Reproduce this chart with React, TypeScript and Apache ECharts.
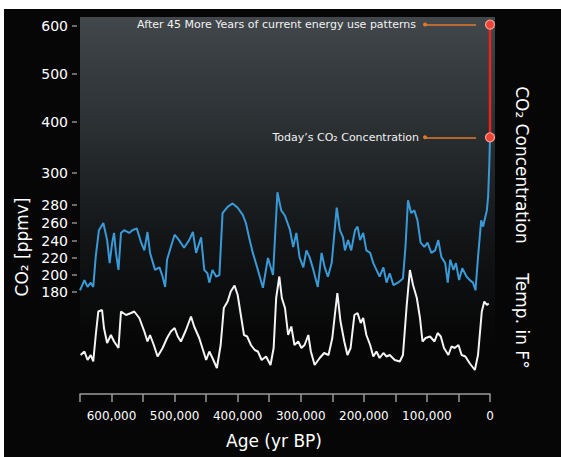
import React, { useEffect, useRef } from 'react';
import * as echarts from 'echarts';

// ---- Data ----
// Vostok CO2 record: age in thousands of years before present
const CO2_AGE_KYR = [
  650, 643, 638, 633, 629, 625, 620, 613, 607, 603,
  599, 596, 593, 589, 585, 580, 572, 567, 560, 553,
  548, 543, 539, 531, 524, 519, 515, 512, 506, 500,
  493, 485, 477, 471, 466, 458, 453, 448, 445, 440,
  434, 429, 424, 416, 408, 400, 392, 387, 381, 376,
  368, 360, 352, 344, 337, 331, 325, 317, 312, 307,
  302, 296, 291, 286, 280, 273, 267, 262, 257, 251,
  243, 238, 233, 230, 225, 220, 214, 210, 206, 201,
  196, 190, 185, 180, 175, 169, 164, 159, 153, 146,
  138, 134, 130, 125, 120, 115, 110, 104, 99, 93,
  87, 82, 77, 71, 67, 63, 58, 54, 49, 44,
  37, 32, 27, 23, 19, 14, 11, 5, 3, 1,
  0,
];
// CO2 in ppmv
const CO2_PPMV = [
  182, 194, 186, 191, 186, 222, 252, 260, 241, 214,
  238, 249, 226, 206, 249, 252, 249, 252, 254, 238,
  229, 250, 226, 206, 209, 198, 186, 218, 233, 247,
  241, 232, 241, 250, 226, 244, 206, 202, 191, 206,
  198, 200, 271, 278, 281, 277, 269, 260, 241, 226,
  206, 185, 220, 200, 288, 274, 268, 252, 233, 249,
  221, 209, 229, 221, 206, 186, 226, 209, 198, 214,
  277, 252, 244, 229, 241, 229, 252, 256, 241, 249,
  229, 226, 214, 206, 198, 209, 191, 202, 188, 191,
  196, 233, 283, 271, 274, 263, 238, 233, 238, 226,
  229, 241, 221, 214, 191, 218, 206, 214, 194, 208,
  198, 194, 191, 182, 221, 263, 256, 274, 285, 320,
  370,
];

// Temperature record: age in kyr BP and anomaly in °F
const TEMP_AGE_KYR = [
  649, 643, 638, 633, 629, 625, 621, 615, 612, 607,
  601, 596, 589, 585, 577, 569, 564, 556, 548, 543,
  539, 533, 527, 519, 512, 506, 500, 495, 490, 482,
  474, 469, 461, 456, 450, 445, 440, 433, 427, 422,
  416, 411, 405, 400, 395, 390, 385, 379, 373, 368,
  362, 355, 348, 343, 339, 334, 330, 325, 320, 315,
  310, 304, 299, 294, 288, 284, 278, 270, 263, 256,
  250, 246, 242, 237, 231, 226, 221, 215, 210, 205,
  201, 196, 190, 185, 180, 175, 169, 164, 159, 151,
  143, 138, 132, 127, 122, 116, 111, 107, 102, 95,
  88, 83, 78, 73, 66, 61, 56, 50, 45, 39,
  32, 24, 19, 13, 9, 5, 2,
];
const TEMP_F = [
  -10.4, -9.7, -11.4, -10.4, -11.7, -6.4, -1.7, -1.4, -5.0, -8.0,
  -6.4, -7.7, -9.0, -1.7, -2.4, -2.0, -1.7, -3.0, -5.7, -7.7,
  -6.4, -8.4, -10.7, -9.0, -7.0, -5.7, -5.0, -6.7, -7.7, -5.4,
  -2.7, -4.7, -7.0, -9.0, -11.4, -9.7, -11.0, -13.0, -8.4, -1.0,
  0.3, 2.3, 3.5, 1.6, -2.4, -6.4, -6.7, -8.4, -9.4, -9.7,
  -11.4, -10.7, -12.4, -9.0, 1.0, 5.3, 1.0, -1.0, -6.4, -4.7,
  -8.4, -7.7, -9.0, -8.4, -6.4, -9.7, -12.4, -11.0, -10.0, -10.4,
  -7.0, -2.4, 2.0, -3.7, -7.7, -10.4, -9.0, -2.4, -2.0, -4.0,
  -3.0, -6.4, -8.4, -10.7, -9.7, -11.0, -10.0, -10.7, -10.4, -11.4,
  -11.7, -10.4, -0.4, 6.6, 3.6, 1.0, -3.0, -7.7, -7.0, -6.7,
  -7.7, -6.0, -6.7, -9.0, -10.4, -8.7, -9.0, -8.4, -10.4, -10.7,
  -12.1, -13.4, -10.4, -1.7, 0.3, -0.4, -0.1,
];

// Today's and projected CO2 (ppmv), both at age 0
const CO2_TODAY = 370;
const CO2_PROJECTED = 603;
const NOTE_PROJECTED = 'After 45 More Years of current energy use patterns';
const NOTE_TODAY = 'Today\u2019s CO\u2082 Concentration';
// leader lines span (kyr BP)
const LEADER_FROM_KYR = 103;
const LEADER_TO_KYR = 22;

// CO2 axis tick labels and the (broken, piecewise) scale of the original axis
const CO2_TICKS = [180, 200, 220, 240, 260, 280, 300, 400, 500, 600];
const CO2_SCALE_UNITS = [0, 17, 34, 51, 69, 87, 119, 170, 218, 266];

const AGE_MAX = 650000;
const AGE_STEP = 50000;

const FONT = '"DejaVu Sans", sans-serif';

function co2ToAxis(v: number): number {
  const n = CO2_TICKS.length;
  let i = 0;
  if (v <= CO2_TICKS[0]) i = 0;
  else if (v >= CO2_TICKS[n - 1]) i = n - 2;
  else {
    while (i < n - 2 && v > CO2_TICKS[i + 1]) i++;
  }
  const a = CO2_TICKS[i], b = CO2_TICKS[i + 1];
  const ua = CO2_SCALE_UNITS[i], ub = CO2_SCALE_UNITS[i + 1];
  return ua + ((v - a) * (ub - ua)) / (b - a);
}

function axisToTickLabel(u: number): string {
  let best = 0;
  for (let i = 1; i < CO2_SCALE_UNITS.length; i++) {
    if (Math.abs(CO2_SCALE_UNITS[i] - u) < Math.abs(CO2_SCALE_UNITS[best] - u)) best = i;
  }
  return String(CO2_TICKS[best]);
}

export default function App() {
  const ref = useRef<HTMLDivElement>(null);

  useEffect(() => {
    if (!ref.current) return;
    const chart = echarts.init(ref.current, null, { renderer: 'svg' });
    const tToday = co2ToAxis(CO2_TODAY);
    const tProj = co2ToAxis(CO2_PROJECTED);
    const tickUnits = CO2_TICKS.map(co2ToAxis);

    chart.setOption({
      animation: false,
      backgroundColor: '#ffffff',
      textStyle: { fontFamily: FONT },
      grid: { left: 80, right: 71, top: 17, bottom: 63, containLabel: false },
      graphic: [
        {
          type: 'rect',
          z: -20,
          silent: true,
          shape: { x: 4, y: 9, width: 557, height: 448 },
          style: { fill: '#060606' },
        },
        {
          type: 'rect',
          z: -10,
          silent: true,
          shape: { x: 80, y: 17, width: 415, height: 376 },
          style: {
            fill: new echarts.graphic.LinearGradient(0, 0, 0, 1, [
              { offset: 0, color: '#41474b' },
              { offset: 0.3, color: '#2a2f32' },
              { offset: 0.6, color: '#121416' },
              { offset: 0.85, color: '#070707' },
              { offset: 1, color: '#060606' },
            ]),
          },
        },
        {
          type: 'text',
          x: 274,
          y: 441,
          silent: true,
          style: {
            text: 'Age (yr BP)',
            fill: '#ffffff',
            fontSize: 17,
            fontFamily: FONT,
            align: 'center',
            verticalAlign: 'middle',
          },
        },
        {
          type: 'text',
          x: 22,
          y: 247,
          rotation: Math.PI / 2,
          silent: true,
          style: {
            text: 'CO\u2082 [ppmv]',
            fill: '#ffffff',
            fontSize: 17,
            fontFamily: FONT,
            align: 'center',
            verticalAlign: 'middle',
          },
        },
        {
          type: 'text',
          x: 522,
          y: 165,
          rotation: -Math.PI / 2,
          silent: true,
          style: {
            text: 'CO\u2082 Concentration',
            fill: '#ffffff',
            fontSize: 17,
            fontFamily: FONT,
            align: 'center',
            verticalAlign: 'middle',
          },
        },
        {
          type: 'text',
          x: 522,
          y: 321,
          rotation: -Math.PI / 2,
          silent: true,
          style: {
            text: 'Temp. in F\u00b0',
            fill: '#ffffff',
            fontSize: 17,
            fontFamily: FONT,
            align: 'center',
            verticalAlign: 'middle',
          },
        },
      ],
      xAxis: {
        type: 'value',
        min: 0,
        max: AGE_MAX,
        interval: AGE_STEP,
        inverse: true,
        axisLine: { show: true, onZero: false, lineStyle: { color: '#9a9a9a', width: 1.5 } },
        axisTick: { show: true, length: 8, lineStyle: { color: '#9a9a9a', width: 1.5 } },
        axisLabel: {
          color: '#ffffff',
          fontSize: 12,
          fontFamily: FONT,
          margin: 16,
          formatter: (v: number) => (v % 100000 === 0 && v < AGE_MAX ? v.toLocaleString('en-US') : ''),
        },
        splitLine: { show: false },
      },
      yAxis: [
        {
          type: 'value',
          min: -102,
          max: 275,
          position: 'left',
          offset: 3,
          axisLine: { show: false, onZero: false },
          axisTick: {
            show: true,
            length: 5,
            customValues: tickUnits,
            lineStyle: { color: '#8c8c8c', width: 1.5 },
          },
          axisLabel: {
            show: true,
            color: '#ffffff',
            fontSize: 14,
            fontFamily: FONT,
            margin: 9,
            customValues: tickUnits,
            formatter: (v: number) => axisToTickLabel(v),
          },
          splitLine: { show: false },
        },
        {
          type: 'value',
          min: -18.2,
          max: 57.2,
          show: false,
          axisLine: { onZero: false },
          splitLine: { show: false },
        },
      ],
      series: [
        {
          name: 'CO2',
          type: 'line',
          yAxisIndex: 0,
          showSymbol: false,
          z: 3,
          lineStyle: { color: '#3a9ad8', width: 2 },
          data: CO2_AGE_KYR.map((a, i) => [a * 1000, co2ToAxis(CO2_PPMV[i])]),
        },
        {
          name: 'Temperature',
          type: 'line',
          yAxisIndex: 1,
          showSymbol: false,
          z: 3,
          lineStyle: { color: '#f4f4f4', width: 2 },
          data: TEMP_AGE_KYR.map((a, i) => [a * 1000, TEMP_F[i]]),
        },
        {
          name: 'Projection',
          type: 'line',
          yAxisIndex: 0,
          z: 5,
          symbol: 'circle',
          symbolSize: 9,
          showSymbol: true,
          lineStyle: { color: '#e3261f', width: 2.5 },
          itemStyle: { color: '#ee4336', borderColor: '#f5a096', borderWidth: 1.2 },
          data: [
            [0, tToday],
            [0, tProj],
          ],
          markLine: {
            silent: true,
            symbol: ['circle', 'none'],
            symbolSize: 4,
            lineStyle: { color: '#e07a2b', width: 1.5, type: 'solid' },
            label: {
              show: true,
              position: 'start',
              formatter: '{b}',
              color: '#f2f2f2',
              fontSize: 11,
              fontFamily: FONT,
              distance: 6,
            },
            data: [
              [
                { name: NOTE_PROJECTED, coord: [LEADER_FROM_KYR * 1000, tProj], label: { distance: 9 } },
                { coord: [LEADER_TO_KYR * 1000, tProj] },
              ],
              [
                { name: NOTE_TODAY, coord: [LEADER_FROM_KYR * 1000, tToday] },
                { coord: [LEADER_TO_KYR * 1000, tToday] },
              ],
            ],
          },
        },
      ],
    });

    return () => chart.dispose();
  }, []);

  return (
    <div
      ref={ref}
      style={{ position: 'fixed', left: 0, top: 0, width: 561, height: 457 }}
    />
  );
}
